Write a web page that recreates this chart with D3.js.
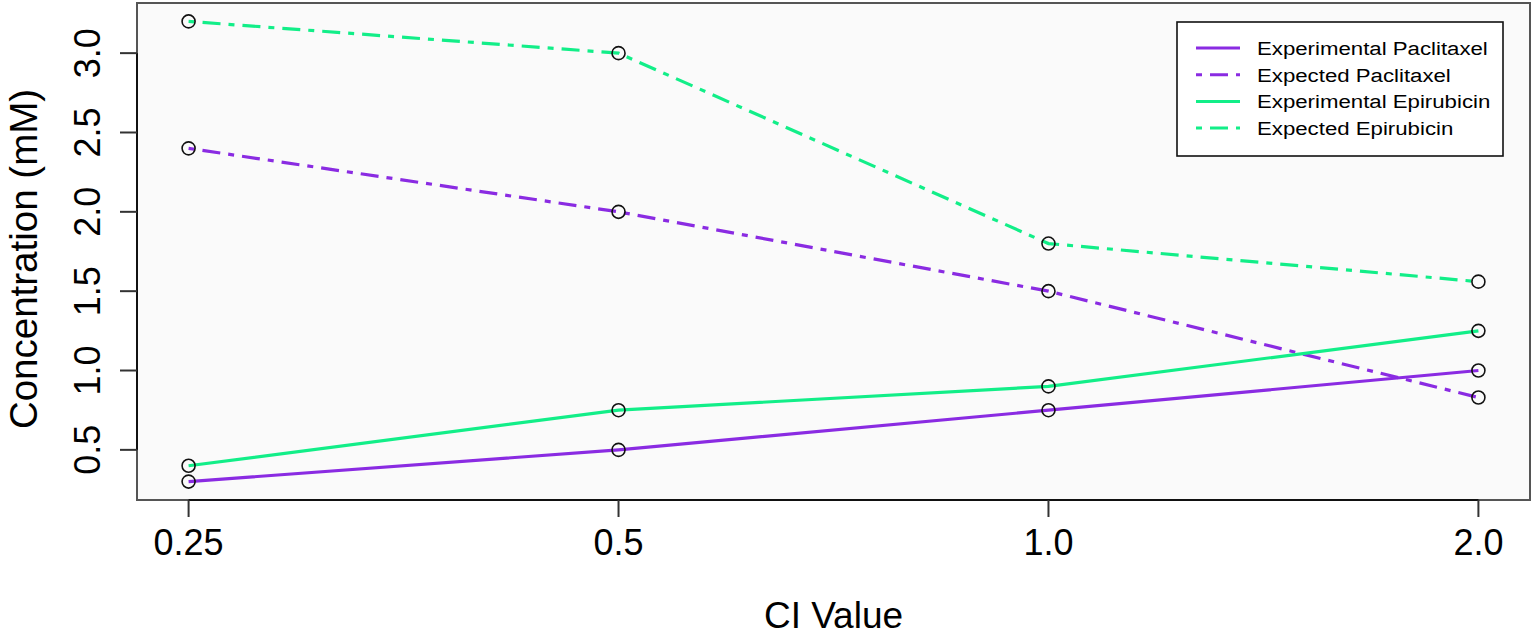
<!DOCTYPE html>
<html>
<head>
<meta charset="utf-8">
<script src="https://cdn.jsdelivr.net/npm/d3@7"></script>
<style>
  html, body { margin: 0; padding: 0; background: #ffffff; }
  svg { display: block; font-family: "Liberation Sans", Arial, Helvetica, sans-serif; }
</style>
</head>
<body>
<svg id="chart" width="1535" height="639"></svg>
<script>
// ---- data ----
const categories = ["0.25", "0.5", "1.0", "2.0"];
const experimentalPaclitaxel = [0.30, 0.50, 0.75, 1.00];
const expectedPaclitaxel     = [2.40, 2.00, 1.50, 0.83];
const experimentalEpirubicin = [0.40, 0.75, 0.90, 1.25];
const expectedEpirubicin     = [3.20, 3.00, 1.80, 1.56];
const yTicks = [0.5, 1.0, 1.5, 2.0, 2.5, 3.0];
const seriesNames = ["Experimental Paclitaxel", "Expected Paclitaxel", "Experimental Epirubicin", "Expected Epirubicin"];
const xTitle = "CI Value";
const yTitle = "Concentration (mM)";

// ---- styling ----
const purple = "#8a2be2";
const green = "#12ee88";
const dotDash = "6,8,18,8";
const series = [
  { name: seriesNames[0], values: experimentalPaclitaxel, color: purple, dash: null },
  { name: seriesNames[1], values: expectedPaclitaxel,     color: purple, dash: dotDash },
  { name: seriesNames[2], values: experimentalEpirubicin, color: green,  dash: null },
  { name: seriesNames[3], values: expectedEpirubicin,     color: green,  dash: dotDash }
];

const plot = { left: 137, right: 1530, top: 3, bottom: 500 };
const svg = d3.select("#chart");

// R-style 4% padding
const allVals = series.flatMap(s => s.values);
const yMin = d3.min(allVals), yMax = d3.max(allVals);
const yPad = (yMax - yMin) * 0.04;
const y = d3.scaleLinear().domain([yMin - yPad, yMax + yPad]).range([plot.bottom, plot.top]);

const xi = d3.scaleLinear().domain([1 - 0.12, categories.length + 0.12]).range([plot.left, plot.right]);
const x = c => xi(categories.indexOf(c) + 1);

// plot background
svg.append("rect")
  .attr("x", plot.left).attr("y", plot.top)
  .attr("width", plot.right - plot.left).attr("height", plot.bottom - plot.top)
  .attr("fill", "#fafafa");

// lines
const line = d3.line().x((d, i) => x(categories[i])).y(d => y(d));
series.forEach(s => {
  svg.append("path")
    .datum(s.values)
    .attr("d", line)
    .attr("fill", "none")
    .attr("stroke", s.color)
    .attr("stroke-width", 3.2)
    .attr("stroke-dasharray", s.dash);
});
// points
series.forEach(s => {
  svg.append("g").selectAll("circle")
    .data(s.values)
    .join("circle")
    .attr("cx", (d, i) => x(categories[i]))
    .attr("cy", d => y(d))
    .attr("r", 6.5)
    .attr("fill", "none")
    .attr("stroke", "#111")
    .attr("stroke-width", 1.6);
});

// box
svg.append("rect")
  .attr("x", plot.left).attr("y", plot.top)
  .attr("width", plot.right - plot.left).attr("height", plot.bottom - plot.top)
  .attr("fill", "none")
  .attr("stroke", "#555")
  .attr("stroke-width", 2);

// x axis
const xAxisG = svg.append("g");
xAxisG.append("line")
  .attr("x1", x(categories[0])).attr("x2", x(categories[categories.length - 1]))
  .attr("y1", plot.bottom).attr("y2", plot.bottom)
  .attr("stroke", "#111").attr("stroke-width", 2);
categories.forEach(c => {
  xAxisG.append("line")
    .attr("x1", x(c)).attr("x2", x(c))
    .attr("y1", plot.bottom).attr("y2", plot.bottom + 17)
    .attr("stroke", "#333").attr("stroke-width", 2);
  xAxisG.append("text")
    .attr("x", x(c)).attr("y", 555)
    .attr("text-anchor", "middle")
    .attr("font-size", 36)
    .attr("fill", "#000")
    .text(c);
});

// y axis
const yAxisG = svg.append("g");
yAxisG.append("line")
  .attr("x1", plot.left).attr("x2", plot.left)
  .attr("y1", y(yTicks[0])).attr("y2", y(yTicks[yTicks.length - 1]))
  .attr("stroke", "#111").attr("stroke-width", 2);
yTicks.forEach(t => {
  yAxisG.append("line")
    .attr("x1", plot.left - 17).attr("x2", plot.left)
    .attr("y1", y(t)).attr("y2", y(t))
    .attr("stroke", "#333").attr("stroke-width", 2);
  yAxisG.append("text")
    .attr("transform", `translate(100,${y(t)}) rotate(-90)`)
    .attr("text-anchor", "middle")
    .attr("font-size", 36)
    .attr("fill", "#000")
    .text(d3.format(".1f")(t));
});

// titles
svg.append("text")
  .attr("x", (plot.left + plot.right) / 2).attr("y", 628)
  .attr("text-anchor", "middle")
  .attr("font-size", 37)
  .attr("fill", "#000")
  .text(xTitle);
svg.append("text")
  .attr("transform", `translate(37,259) rotate(-90)`)
  .attr("text-anchor", "middle")
  .attr("font-size", 38.5)
  .attr("fill", "#000")
  .text(yTitle);

// legend
const lg = svg.append("g");
lg.append("rect")
  .attr("x", 1177).attr("y", 22)
  .attr("width", 326).attr("height", 134)
  .attr("fill", "#ffffff")
  .attr("stroke", "#111")
  .attr("stroke-width", 1.6);
series.forEach((s, i) => {
  const ly = 48 + i * 26.7;
  lg.append("line")
    .attr("x1", 1196).attr("x2", 1240)
    .attr("y1", ly).attr("y2", ly)
    .attr("stroke", s.color)
    .attr("stroke-width", 3)
    .attr("stroke-dasharray", s.dash ? "6,8,18,8" : null);
  lg.append("text")
    .attr("transform", `translate(1257,${ly + 7}) scale(1.17,1)`)
    .attr("font-size", 19)
    .attr("fill", "#000")
    .text(s.name);
});
</script>
</body>
</html>
